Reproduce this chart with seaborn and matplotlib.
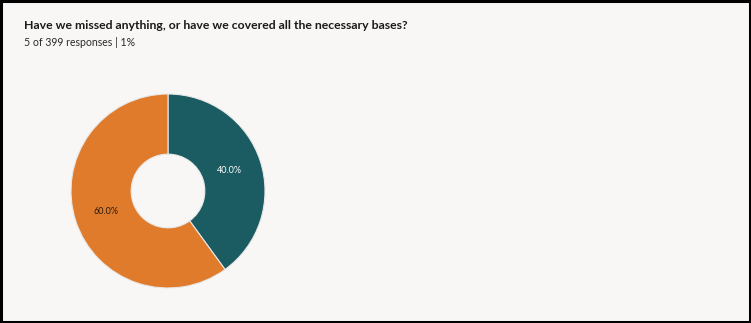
import matplotlib
matplotlib.use("Agg")
import matplotlib.pyplot as plt
import seaborn as sns

labels = ["Yes", "No"]
values = [40.0, 60.0]
colors = ["#1b5c63", "#e07b2b"]
text_colors = ["white", "#2a1a10"]

title = "Have we missed anything, or have we covered all the necessary bases?"
subtitle = "5 of 399 responses | 1%"

sns.set_theme(style="white")
plt.rcParams["font.family"] = ["Lato", "DejaVu Sans"]

bg = "#f9f7f5"
W, H = 751, 323
fig = plt.figure(figsize=(W / 100, H / 100), dpi=100, facecolor=bg)

cx, cy, r = 168, 191, 97
ax = fig.add_axes([(cx - r) / W, (H - cy - r) / H, 2 * r / W, 2 * r / H])
ax.set_facecolor(bg)
wedges, texts, autotexts = ax.pie(
    values, colors=colors, startangle=90, counterclock=False,
    autopct="%.1f%%", pctdistance=0.67, radius=1.0,
    wedgeprops=dict(width=0.62, edgecolor="#e8e8e8", linewidth=0.8),
    textprops=dict(fontsize=6.5),
)
for t, c in zip(autotexts, text_colors):
    t.set_color(c)
ax.set_xlim(-1, 1)
ax.set_ylim(-1, 1)
ax.set_aspect("equal")
ax.axis("off")

fig.text(24 / W, 1 - 29 / H, title, fontsize=8.85, fontweight="bold", color="#1a1a1a", va="baseline")
fig.text(24 / W, 1 - 46 / H, subtitle, fontsize=7.6, color="#2a2a2a", va="baseline")

# border
border = plt.Rectangle((0.0015, 0.003), 0.997, 0.994, transform=fig.transFigure,
                       fill=False, edgecolor="black", linewidth=2.2)
fig.patches.append(border)

fig.savefig("out.png", dpi=100, facecolor=bg)
